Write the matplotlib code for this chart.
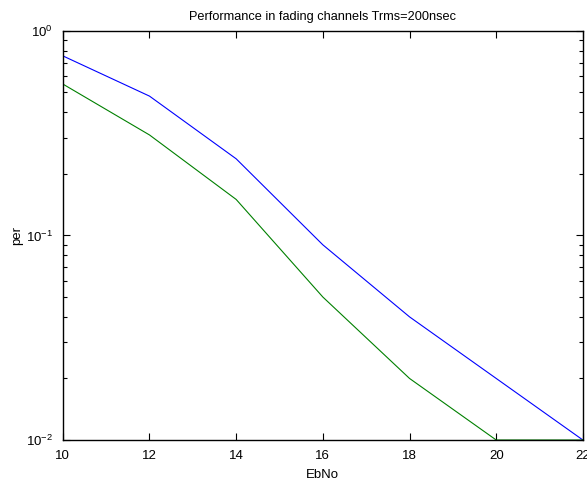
"""Packet error rate vs EbNo in fading channels."""
import matplotlib
matplotlib.use("Agg")
import matplotlib.pyplot as plt
from matplotlib.ticker import LogLocator, NullFormatter

plt.rcParams["font.family"] = ["Liberation Sans", "DejaVu Sans"]
plt.rcParams["mathtext.fontset"] = "custom"
plt.rcParams["mathtext.rm"] = "Liberation Sans"
plt.rcParams["mathtext.it"] = "Liberation Sans"

ebno = [10, 12, 14, 16, 18, 20, 22]
per_blue = [0.755, 0.48, 0.237, 0.09, 0.04, 0.02, 0.01]
per_green = [0.55, 0.31, 0.15, 0.05, 0.02, 0.01, 0.01]

fig = plt.figure(figsize=(5.87, 4.83), dpi=100)
ax = fig.add_axes([0.107, 0.089, 0.886, 0.847])

ax.plot(ebno, per_blue, color="#0000ff", linewidth=0.8)
ax.plot(ebno, per_green, color="#008000", linewidth=0.8)

ax.set_yscale("log")
ax.set_xlim(10, 22)
ax.set_ylim(1e-2, 1e0)
ax.set_xticks(ebno)
ax.yaxis.set_major_locator(LogLocator(base=10, numticks=5))
ax.yaxis.set_minor_locator(LogLocator(base=10, subs=range(2, 10), numticks=20))
ax.yaxis.set_minor_formatter(NullFormatter())

ax.tick_params(which="both", direction="in", top=True, right=True,
               labelsize=9.5, width=0.8)
ax.tick_params(which="major", length=5, pad=7)
ax.tick_params(which="minor", length=3)
for s in ax.spines.values():
    s.set_linewidth(1.0)

ax.set_title("Performance in fading channels Trms=200nsec", fontsize=9.2, pad=8)
ax.set_xlabel("EbNo", fontsize=9.5, labelpad=5)
ax.set_ylabel("per", fontsize=9.5, labelpad=2)

fig.savefig("out.png", dpi=100)
